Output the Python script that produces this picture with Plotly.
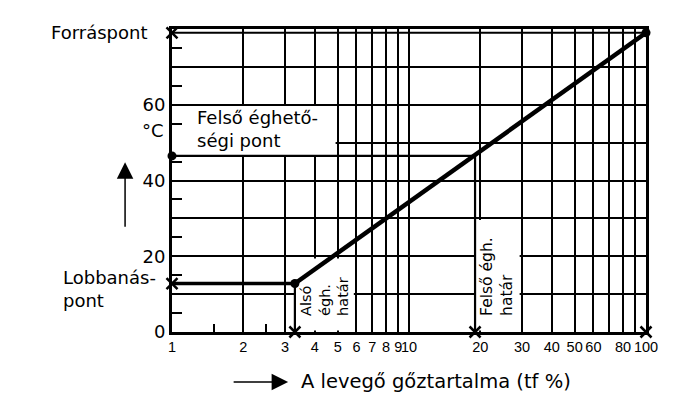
import numpy as np
import plotly.graph_objects as go

# ---- data (ethanol-like flammability diagram) ----
x_min, x_max = 1, 100            # vapour content, vol %
lel = 3.3                         # lower explosive limit (Alsó égh. határ)
uel = 19                          # upper explosive limit (Felső égh. határ)
flash_point = 12.8                # Lobbanáspont, °C
upper_point = 46.5                # Felső éghetőségi pont, °C
boiling_point = 79                # Forráspont, °C

x_tickvals = [1, 2, 3, 4, 5, 6, 7, 8, 9, 10, 20, 30, 40, 50, 60, 70, 80, 90, 100]
x_ticktext = ["1", "2", "3", "4", "5", "6", "7", "8", "9", "10", "20", "30", "40", "50", "60", "", "80", "", "100"]
x_minor = [1.5, 2.5]
y_tickvals = [0, 10, 20, 30, 40, 50, 60, 70]
y_ticktext = ["0", "", "20", "", "40", "", "60", ""]
y_minor = [5, 15, 25, 35, 45, 55, 65, 75]

FONT = "DejaVu Sans"
FONT_N = "Liberation Sans, Arial, DejaVu Sans"
FS = 18

fig = go.Figure()

def box(x0, x1, y0, y1):
    fig.add_trace(go.Scatter(x=[x0, x1, x1, x0, x0], y=[y0, y0, y1, y1, y0], mode="lines",
                             fill="toself", fillcolor="white", line=dict(width=0),
                             hoverinfo="skip", showlegend=False))

# white label boxes hiding the grid
box(x_min, 4.9, upper_point, 59.7)
box(lel, 5.85, 0.4, 19.4)
box(uel, 29.3, 0.4, 29.6)

# boiling-point line
fig.add_trace(go.Scatter(x=[x_min, x_max], y=[boiling_point, boiling_point], mode="lines",
                         line=dict(color="black", width=2), showlegend=False))
# upper point horizontal & upper limit vertical
fig.add_trace(go.Scatter(x=[x_min, uel, uel], y=[upper_point, upper_point, 0], mode="lines",
                         line=dict(color="black", width=2.2), showlegend=False))
# lower limit vertical
fig.add_trace(go.Scatter(x=[lel, lel], y=[flash_point, 0], mode="lines",
                         line=dict(color="black", width=2.2), showlegend=False))
# flash line + main curve
fig.add_trace(go.Scatter(x=[x_min, lel], y=[flash_point, flash_point], mode="lines",
                         line=dict(color="black", width=3.5), showlegend=False, cliponaxis=False))
fig.add_trace(go.Scatter(x=[lel, x_max], y=[flash_point, boiling_point], mode="lines",
                         line=dict(color="black", width=4.5), showlegend=False, cliponaxis=False))
# markers
fig.add_trace(go.Scatter(x=[lel, x_max, x_min], y=[flash_point, boiling_point, upper_point], mode="markers",
                         marker=dict(color="black", size=9), showlegend=False, cliponaxis=False))
fig.add_trace(go.Scatter(x=[x_min, x_min, lel, uel, x_max], y=[boiling_point, flash_point, 0, 0, 0],
                         mode="markers",
                         marker=dict(symbol="x-thin", size=11, line=dict(color="black", width=2.5)),
                         showlegend=False, cliponaxis=False))

ann = []
def txt(text, x, y, xref="paper", yref="paper", xanchor="center", yanchor="middle", align="left", angle=0, size=FS, family=FONT):
    ann.append(dict(text=text, x=x, y=y, xref=xref, yref=yref, xanchor=xanchor, yanchor=yanchor,
                    align=align, textangle=angle, showarrow=False,
                    font=dict(family=family, size=size, color="black")))

txt("Forráspont", -0.046, boiling_point, yref="y", xanchor="right")
txt("Lobbanás-<br>pont", -0.03, 11.4, yref="y", xanchor="right")
txt("Felső éghető-<br>ségi pont", 0.048, 53.5, yref="y", xanchor="left")
txt("°C", -0.013, 53.2, yref="y", xanchor="right")
txt("Alsó<br>égh.<br>határ", np.log10(lel) + 0.004, 3.8, xref="x", yref="y", xanchor="left", yanchor="bottom", angle=-90, size=14.5)
txt("Felső égh.<br>határ", np.log10(uel) + 0.004, 3.6, xref="x", yref="y", xanchor="left", yanchor="bottom", angle=-90, size=15.5)
txt("A levegő gőztartalma (tf %)", 0.268, -0.165, xanchor="left", size=19.5)

# arrows
ann.append(dict(x=0.245, y=-0.165, xref="paper", yref="paper", ax=-56, ay=0, text="", showarrow=True,
                arrowhead=2, arrowsize=2.2, arrowwidth=1.5, arrowcolor="black"))
ann.append(dict(x=-0.099, y=0.56, xref="paper", yref="paper", ax=0, ay=66, text="", showarrow=True,
                arrowhead=2, arrowsize=2.2, arrowwidth=1.5, arrowcolor="black"))

fig.update_layout(
    width=688, height=394, margin=dict(l=172, r=42, t=29, b=62),
    paper_bgcolor="white", plot_bgcolor="white",
    font=dict(family=FONT, size=FS, color="black"),
    annotations=ann, showlegend=False,
)
fig.update_xaxes(type="log", range=[0, 2], tickmode="array", tickvals=x_tickvals, ticktext=x_ticktext,
                 tickangle=0, showgrid=True, gridcolor="black", gridwidth=2,
                 showline=True, linecolor="black", linewidth=3, mirror=True, ticks="",
                 minor=dict(tickvals=x_minor, ticks="inside", ticklen=8, tickwidth=2, tickcolor="black", showgrid=False),
                 tickfont=dict(family=FONT_N, size=14.5), zeroline=False)
fig.update_yaxes(range=[0, 80], tickmode="array", tickvals=y_tickvals, ticktext=y_ticktext,
                 showgrid=True, gridcolor="black", gridwidth=2,
                 showline=True, linecolor="black", linewidth=3, mirror=True, ticks="",
                 minor=dict(tickvals=y_minor, ticks="inside", ticklen=10, tickwidth=2, tickcolor="black", showgrid=False),
                 tickfont=dict(family=FONT, size=FS), zeroline=False)

fig.write_html("out.html", config={"displayModeBar": False},
               post_script="document.body.style.margin='0';")
